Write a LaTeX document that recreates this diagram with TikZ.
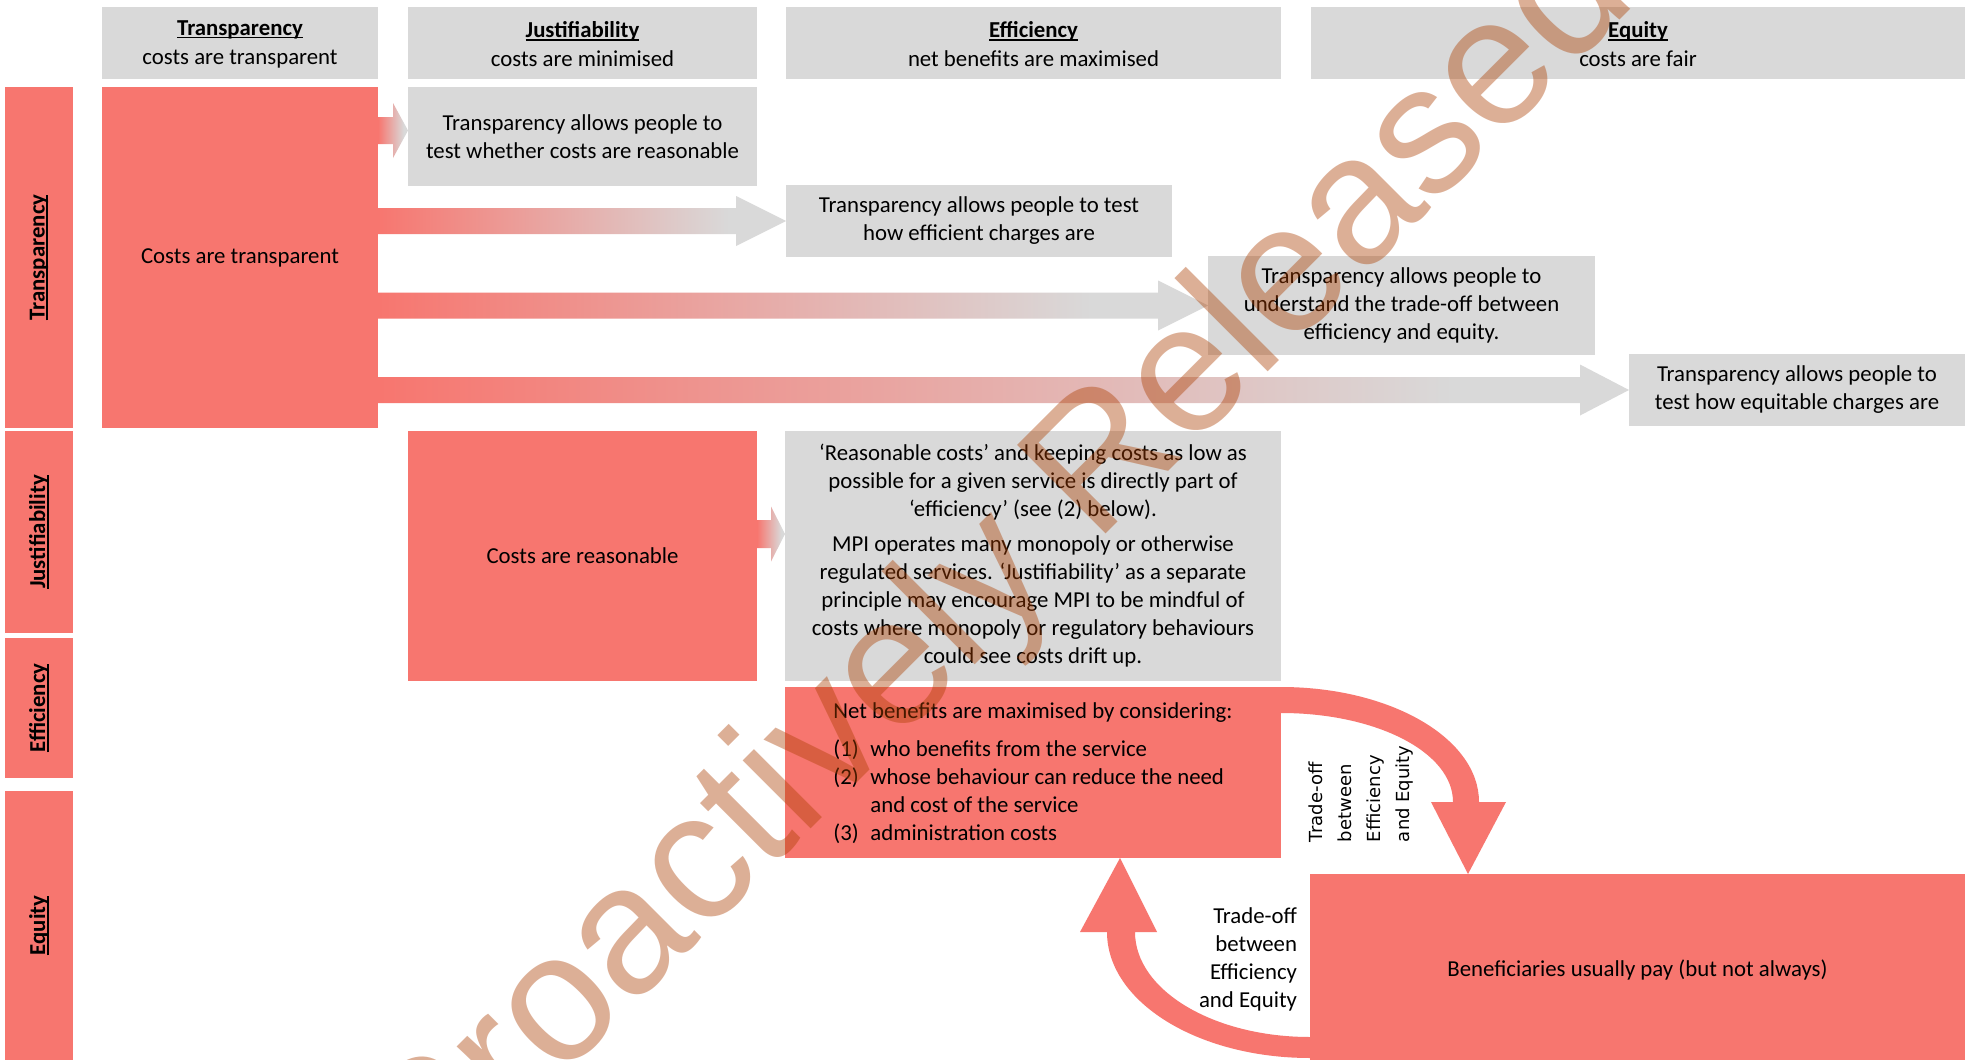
\documentclass[tikz,border=0pt]{standalone}
\usepackage{fontspec}
\setmainfont{Carlito}
\newfontfamily\dvs{DejaVu Sans}
\newfontfamily\wmfont{Liberation Sans}
\usetikzlibrary{fit,calc}
\definecolor{boxred}{RGB}{247,118,111}
\definecolor{boxgray}{RGB}{217,217,217}
\definecolor{wmc}{RGB}{172,62,0}
\pgfdeclarehorizontalshading{arrowshade}{100bp}{color(0bp)=(boxred); color(25bp)=(boxred); color(68bp)=(boxgray); color(100bp)=(boxgray)}
\newcommand{\mainsz}{\fontsize{11.4}{14}\selectfont}
\newsavebox\myulbox
\newcommand{\myul}[1]{\sbox\myulbox{#1}\rlap{\usebox\myulbox}\rule[-1.7pt]{\wd\myulbox}{0.8pt}}
\newcommand{\blkarrow}[5]{%
  \shade[shading=arrowshade] ($(#1)+(0,-#3)$) -- ($(#2)+(-#5,-#3)$) -- ($(#2)+(-#5,-#4)$) -- (#2) -- ($(#2)+(-#5,#4)$) -- ($(#2)+(-#5,#3)$) -- ($(#1)+(0,#3)$) -- cycle;}
\tikzset{
  base/.style={inner sep=0pt, outer sep=0pt, align=center, font=\mainsz},
  redbox/.style={inner sep=0pt, outer sep=0pt, fill=boxred},
  graybox/.style={inner sep=0pt, outer sep=0pt, fill=boxgray},
  sidelabel/.style={base, rotate=90},
}
\begin{document}
\begin{tikzpicture}[x=0.5pt, y=-0.5pt]
\useasboundingbox (0,0) rectangle (1966,1060);
\fill[white] (0,0) rectangle (1966,1060);

% column headers
\node[graybox, fit={(102,7) (378,79)}] (hT) {};
\node[graybox, fit={(408,7) (757,79)}] (hJ) {};
\node[graybox, fit={(786,7) (1281,79)}] (hE) {};
\node[graybox, fit={(1311,7) (1965,79)}] (hQ) {};
\node[base] (hTt) at ($(hT.center)+(0,1)$) {\myul{\textbf{Transparency}}\\[0.5pt]costs are transparent};
\node[base] (hJt) at ($(hJ.center)+(0,1)$) {\myul{\textbf{Justifiability}}\\[0.5pt]costs are minimised};
\node[base] (hEt) at ($(hE.center)+(0,1)$) {\myul{\textbf{Efficiency}}\\[0.5pt]net benefits are maximised};
\node[base] (hQt) at ($(hQ.center)+(0,1)$) {\myul{\textbf{Equity}}\\[0.5pt]costs are fair};

% row labels
\node[redbox, fit={(5,87) (73,428)}] (sT) {};
\node[redbox, fit={(5,431) (73,633)}] (sJ) {};
\node[redbox, fit={(5,638) (73,778)}] (sE) {};
\node[redbox, fit={(5,791) (73,1060)}] (sQ) {};
\node[sidelabel] (lT) at (sT.center) {\myul{\textbf{Transparency}}};
\node[sidelabel] (lJ) at (sJ.center) {\myul{\textbf{Justifiability}}};
\node[sidelabel] (lE) at (sE.center) {\myul{\textbf{Efficiency}}};
\node[sidelabel] (lQ) at (sQ.center) {\myul{\textbf{Equity}}};

% body boxes
\node[redbox, fit={(102,87) (378,428)}] (ct) {};
\node[graybox, fit={(408,87) (757,186)}] (tj) {};
\node[graybox, fit={(786,185) (1172,257)}] (te) {};
\node[graybox, fit={(1208,256) (1595,355)}] (tt) {};
\node[graybox, fit={(1629,354) (1965,426)}] (tq) {};
\node[redbox, fit={(408,431) (757,681)}] (cr) {};
\node[graybox, fit={(785,431) (1281,681)}] (rc) {};
\node[redbox, fit={(785,687) (1281,858)}] (nb) {};
\node[redbox, fit={(1310,874) (1965,1060)}] (ben) {};

\node[base] (ctt) at (ct.center) {Costs are transparent};
\node[base] (tjt) at (tj.center) {Transparency allows people to\\test whether costs are reasonable};
\node[base] (tet) at (te.center) {Transparency allows people to test\\how efficient charges are};
\node[base] (ttt) at (tt.center) {Transparency allows people to\\understand the trade-off between\\efficiency and equity.};
\node[base] (tqt) at (tq.center) {Transparency allows people to\\test how equitable charges are};
\node[base] (crt) at (cr.center) {Costs are reasonable};
\node[base] (rct) at (rc.center) {‘Reasonable costs’ and keeping costs as low as\\possible for a given service is directly part of\\‘efficiency’ (see (2) below).\\[3.5pt]MPI operates many monopoly or otherwise\\regulated services. ‘Justifiability’ as a separate\\principle may encourage MPI to be mindful of\\costs where monopoly or regulatory behaviours\\could see costs drift up.};
\node[base, align=left] (nbt) at ($(nb.center)+(0,1)$) {Net benefits are maximised by considering:\\[5pt]
\makebox[18.5pt][l]{(1)}who benefits from the service\\
\makebox[18.5pt][l]{(2)}whose behaviour can reduce the need\\
\hspace*{18.5pt}and cost of the service\\
\makebox[18.5pt][l]{(3)}administration costs};
\node[base] (bent) at ($(ben.center)+(0,3)$) {Beneficiaries usually pay (but not always)};

% block arrows
\coordinate (a1t) at ($(tj.west)+(0,-6)$);
\coordinate (a1s) at (ct.east |- a1t);
\coordinate (a2t) at (te.west);
\coordinate (a2s) at (ct.east |- a2t);
\coordinate (a3t) at (tt.west);
\coordinate (a3s) at (ct.east |- a3t);
\coordinate (a4t) at (tq.west);
\coordinate (a4s) at (ct.east |- a4t);
\coordinate (a5t) at ($(rc.west)+(0,-22)$);
\coordinate (a5s) at (cr.east |- a5t);
\blkarrow{a1s}{a1t}{13.5}{27.5}{15}
\blkarrow{a2s}{a2t}{13}{25}{50}
\blkarrow{a3s}{a3t}{13}{25}{50}
\blkarrow{a4s}{a4t}{13}{25.5}{49}
\blkarrow{a5s}{a5t}{14}{27.5}{14}

% curved arrows
\coordinate (c1t) at ($(ben.north west)+(158,0)$);
\fill[boxred] (nb.north east) .. controls +(109,0) and +(0,-64) .. ++(198,115)
  -- ++(27,0) -- (c1t) -- ++(-37,-72) -- ++(22,0)
  .. controls +(0,-50) and +(95,0) .. ++(-172,-89) -- cycle;
\coordinate (c2t) at ($(nb.south west)+(335,0)$);
\fill[boxred] ($(ben.south west)+(0,-2)$) .. controls +(-112,0) and +(0,70) .. ++(-203,-126)
  -- ++(-27,0) -- (c2t) -- ++(37,74) -- ++(-22,0)
  .. controls +(0,58) and +(-97,0) .. ++(175,105) -- cycle;

\node[base, anchor=east, align=right] (tob) at ($(ben.west)+(-13,-8)$) {Trade-off\\between\\Efficiency\\and Equity};
\node[base, rotate=90, anchor=west, align=left, font=\dvs\fontsize{9}{14.5}\selectfont] (tot) at ($(nb.north east)+(80,155)$) {Trade-off\\between\\Efficiency\\and Equity};

% watermark
\node[rotate=45, anchor=base, text=wmc, opacity=0.41, inner sep=0pt, font=\wmfont\fontsize{91}{91}\selectfont] (wm) at (1035,605) {Proactively Released};
\end{tikzpicture}
\end{document}
